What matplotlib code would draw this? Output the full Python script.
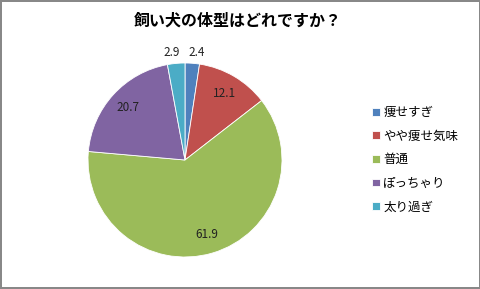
import math
import matplotlib.pyplot as plt

plt.rcParams['font.family'] = ['Noto Sans CJK JP', 'DejaVu Sans']

# datos del grafico
labels = ['痩せすぎ', 'やや痩せ気味', '普通', 'ぽっちゃり', '太り過ぎ']
values = [2.4, 12.1, 61.9, 20.7, 2.9]
colors = ['#4F81BD', '#C0504D', '#9BBB59', '#8064A2', '#4BACC6']

fig = plt.figure(figsize=(4.81, 2.89), dpi=100)
fig.patch.set_edgecolor('#888888')
fig.patch.set_linewidth(1.5)

# el eje del pie: centro (185,160) px, radio ~97 px
ax = fig.add_axes([(185 - 97) / 481, 1 - (160 + 97) / 289, 194 / 481, 194 / 289])
wedges, texts = ax.pie(values, colors=colors, startangle=90, counterclock=False,
                       wedgeprops=dict(edgecolor='white', linewidth=0.6))
ax.set_xlim(-1, 1)
ax.set_ylim(-1, 1)
ax.set_aspect('equal')

# etiquetas de valores (las chicas van afuera, un poco separadas)
for w, v in zip(wedges, values):
  ang = math.radians((w.theta1 + w.theta2) / 2)
  x, y = math.cos(ang), math.sin(ang)
  if v < 5:
    x, y = 1.11 * x + math.copysign(0.035, x), 1.11 * y
  else:
    x, y = 0.8 * x, 0.8 * y
  ax.text(x, y, f'{v}', ha='center', va='center',
          fontsize=8.5, color='#222222', clip_on=False)

fig.text(238 / 481, 1 - 21 / 289, '飼い犬の体型はどれですか？', ha='center', va='center',
         fontsize=11.5, fontweight='bold')

fig.legend(wedges, labels, loc='upper left', bbox_to_anchor=(372 / 481, 1 - 106 / 289),
           frameon=False, fontsize=9, handlelength=0.6, handleheight=0.6,
           handletextpad=0.3, labelspacing=0.85, borderaxespad=0, borderpad=0)

fig.savefig('out.png', dpi=100, edgecolor=fig.get_edgecolor())
